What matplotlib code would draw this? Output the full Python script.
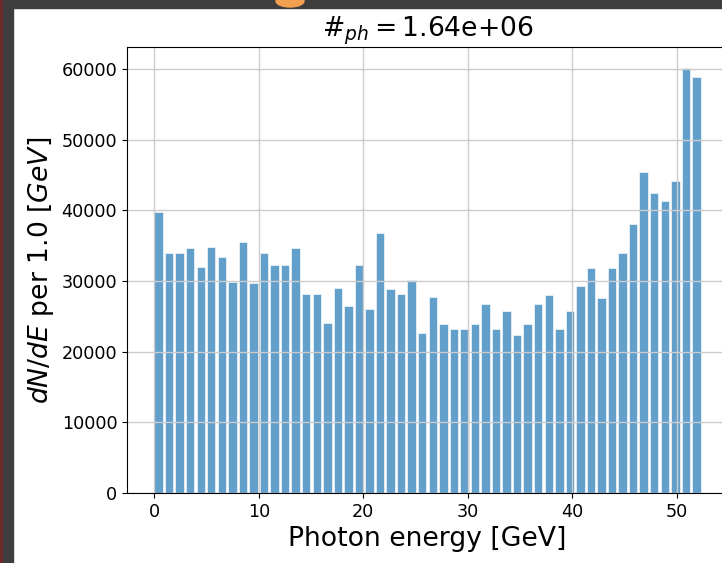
import numpy as np
import matplotlib
matplotlib.use("Agg")
import matplotlib.pyplot as plt
from matplotlib.patches import Rectangle, Ellipse

# photon spectrum, counts per energy bin
counts = [39700, 34000, 34000, 34600, 32000, 34800, 33400, 29900, 35500, 29700,
          34000, 32300, 32300, 34700, 28200, 28200, 24000, 29000, 26400, 32300,
          26000, 36800, 28800, 28200, 30200, 22700, 27700, 23900, 23200, 23200,
          23900, 26700, 23200, 25700, 22400, 23900, 26700, 28000, 23200, 25700,
          29300, 31900, 27600, 31800, 34000, 38000, 45400, 42500, 41300, 44200,
          60100, 58800]
e_max = 52.5
n_photons = 1.64e6

n_bins = len(counts)
edges = np.linspace(0, e_max, n_bins + 1)
dE = edges[1] - edges[0]

fig = plt.figure(figsize=(7.22, 5.63), dpi=100)
ax = fig.add_axes([0.1759, 0.1243, 0.8324, 0.7922])

ax.bar(edges[:-1], counts, width=0.8 * dE, align='edge', color='tab:blue',
       alpha=0.7, edgecolor='white', linewidth=0.6)
ax.grid(True, color='#cccccc', linewidth=1.0)
ax.tick_params(labelsize=12.7)
ax.set_xlabel('Photon energy [GeV]', fontsize=19.2)
ax.set_ylabel('$dN/dE$ per %.1f $[GeV]$' % dE, fontsize=19.2)
ax.set_title(r'$\#_{ph} = $%.2e' % n_photons, fontsize=19.2)

# window frame around the figure
W, H = 722, 563
fig.patches.append(Rectangle((0, 0), 13 / W, 1, transform=fig.transFigure,
                             color='#3d3d3d', zorder=10))
fig.patches.append(Rectangle((0, 0), 2 / W, 1, transform=fig.transFigure,
                             color='#6a2a2a', zorder=11))
fig.patches.append(Rectangle((0, 1 - 8 / H), 1, 8 / H, transform=fig.transFigure,
                             color='#3d3d3d', zorder=10))
fig.patches.append(Ellipse((290 / W, 1 - 1 / H), 28 / W, 12 / H,
                           transform=fig.transFigure, color='#f0a050', zorder=11))

fig.savefig('out.png', dpi=100)
